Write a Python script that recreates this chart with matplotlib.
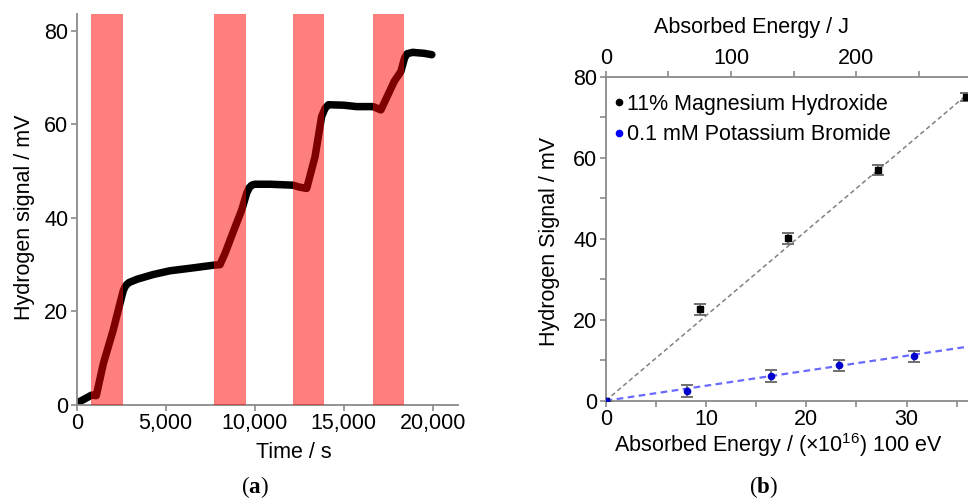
import matplotlib
matplotlib.use("Agg")
import matplotlib.pyplot as plt
from matplotlib.ticker import MultipleLocator, FuncFormatter
from matplotlib.lines import Line2D

plt.rcParams['font.family'] = ['Liberation Sans', 'DejaVu Sans']
plt.rcParams['mathtext.fontset'] = 'custom'
plt.rcParams['mathtext.rm'] = 'Liberation Sans'
plt.rcParams['mathtext.it'] = 'Liberation Sans'
plt.rcParams['mathtext.bf'] = 'Liberation Serif:bold'

# ---------------- data (a) ----------------
time_s = [0, 400, 830, 1100, 1500, 2050, 2530, 2620, 2720, 2820, 2950, 3400, 4300,
          5240, 6500, 7700, 8050, 8330, 8800, 9270, 9550, 9700, 9830, 10000, 10860,
          12150, 12500, 12920, 13390, 13760, 13950, 14140, 15000, 15730, 16650,
          17090, 17840, 18210, 18420, 18560, 18870, 19500, 19950]
signal_mV = [0.4, 1.2, 2.1, 2.0, 8.9, 16.0, 23.2, 24.5, 25.3, 25.8, 26.2, 26.9, 27.9,
             28.7, 29.3, 29.9, 30.0, 32.4, 37.1, 41.7, 45.3, 46.5, 47.0, 47.2, 47.2,
             47.0, 46.6, 46.3, 53.1, 61.7, 63.4, 64.2, 64.1, 63.8, 63.8,
             63.1, 69.2, 71.3, 74.2, 75.1, 75.4, 75.2, 74.9]
light_on = [800, 7730, 12135, 16630]
light_off = [2620, 9495, 13910, 18405]

# ---------------- data (b) ----------------
mg_energy = [0, 9.4, 18.2, 27.1, 35.9]
mg_signal = [0, 22.6, 40.1, 57.0, 75.1]
mg_err = [0, 1.4, 1.3, 1.2, 1.0]
kbr_energy = [0, 8.07, 16.45, 23.3, 30.7]
kbr_signal = [0, 2.4, 6.1, 8.7, 11.0]
kbr_err = [0, 1.4, 1.5, 1.4, 1.4]
fit_slopes = [2.1, 0.37]
series_names = ['11% Magnesium Hydroxide', '0.1 mM Potassium Bromide']
joule_per_unit = 8.0

W, H = 968, 501
fig = plt.figure(figsize=(W / 100, H / 100), dpi=100)
FS = 15.5
GRAY = '#8a8a8a'

def frac_box(x0, y0, x1, y1):
    return [x0 / W, 1 - y1 / H, (x1 - x0) / W, (y1 - y0) / H]

# ---------- panel (a) ----------
ax1 = fig.add_axes(frac_box(76.7, 14, 458, 405))
ax1.plot(time_s, signal_mV, color='black', lw=5.4, solid_capstyle='round',
         solid_joinstyle='round', zorder=2)
for a, b in zip(light_on, light_off):
    ax1.axvspan(a, b, color='#ff0000', alpha=0.5, lw=0, zorder=3)
ax1.set_xlim(0, 21420)
ax1.set_ylim(0, 83.6)
ax1.set_xticks([0, 5000, 10000, 15000, 20000])
ax1.xaxis.set_major_formatter(FuncFormatter(lambda v, p: f'{int(v):,}'))
ax1.set_yticks([0, 20, 40, 60, 80])
for s in ['top', 'right']:
    ax1.spines[s].set_visible(False)
for s in ['left', 'bottom']:
    ax1.spines[s].set_color(GRAY)
    ax1.spines[s].set_linewidth(1.3)
ax1.tick_params(colors=GRAY, labelcolor='black', labelsize=FS, length=4, width=1.2, pad=2)
fig.text(294 / W, 1 - 452 / H, 'Time / s', ha='center', va='center', fontsize=FS)
fig.text(25 / W, 1 - 217 / H, 'Hydrogen signal / mV', ha='center', va='center',
         rotation=90, fontsize=FS)

# ---------- panel (b) ----------
ax2 = fig.add_axes(frac_box(605.7, 77, 968, 400.7))
ax2.set_xlim(0, 36.12)
ax2.set_ylim(0, 80)
for sl, col, lw in zip(fit_slopes, ['#808080', '#6a6aff'], [1.1, 1.6]):
    ax2.axline((0, 0), slope=sl, color=col, ls=(0, (3, 2)), lw=lw, zorder=2)
ax2.errorbar(mg_energy, mg_signal, yerr=mg_err, fmt='s', ms=3.8, color='black',
             ecolor='#707070', elinewidth=1.3, capsize=4.5, capthick=1.4, zorder=4)
ax2.errorbar(kbr_energy, kbr_signal, yerr=kbr_err, fmt='o', ms=4.5, color='#0000cc',
             ecolor='#707070', elinewidth=1.3, capsize=4.5, capthick=1.4, zorder=4)
ax2.set_xticks([0, 10, 20, 30])
ax2.xaxis.set_minor_locator(MultipleLocator(5))
ax2.set_yticks([0, 20, 40, 60, 80])
ax2.yaxis.set_minor_locator(MultipleLocator(10))
ax2.spines['right'].set_visible(False)
for s in ['left', 'bottom', 'top']:
    ax2.spines[s].set_color(GRAY)
    ax2.spines[s].set_linewidth(1.3)
ax2.tick_params(which='both', colors=GRAY, labelcolor='black', labelsize=FS, width=1.2,
                length=4, pad=2)

top = ax2.secondary_xaxis('top', functions=(lambda x: x * joule_per_unit,
                                            lambda j: j / joule_per_unit))
top.set_xticks([0, 100, 200])
top.xaxis.set_minor_locator(MultipleLocator(50))
top.tick_params(which='both', colors=GRAY, labelcolor='black', labelsize=FS, length=4,
                width=1.2, pad=2)
top.spines['top'].set_visible(False)

fig.text(752 / W, 1 - 27 / H, 'Absorbed Energy / J', ha='center', va='center', fontsize=FS)
fig.text(778 / W, 1 - 445 / H, r'Absorbed Energy / (×10$^{16}$) 100 eV', ha='center',
         va='center', fontsize=FS)
fig.text(549 / W, 1 - 241 / H, 'Hydrogen Signal / mV', ha='center', va='center',
         rotation=90, fontsize=FS)

handles = [Line2D([], [], ls='none', marker='o', ms=4.5, color='black'),
           Line2D([], [], ls='none', marker='o', ms=4.5, color='#0000ff')]
ax2.legend(handles, series_names, loc='upper left', frameon=False, fontsize=FS,
           handlelength=0.35, handletextpad=0.2, labelspacing=0.45,
           borderaxespad=0.0, bbox_to_anchor=(0.003, 0.975))

# captions
fig.text(255 / W, 1 - 487 / H, r'($\mathbf{a}$)', ha='center', va='center',
         fontsize=16.5, family='Liberation Serif')
fig.text(763 / W, 1 - 487 / H, r'($\mathbf{b}$)', ha='center', va='center',
         fontsize=16.5, family='Liberation Serif')

fig.savefig('out.png', dpi=100)
